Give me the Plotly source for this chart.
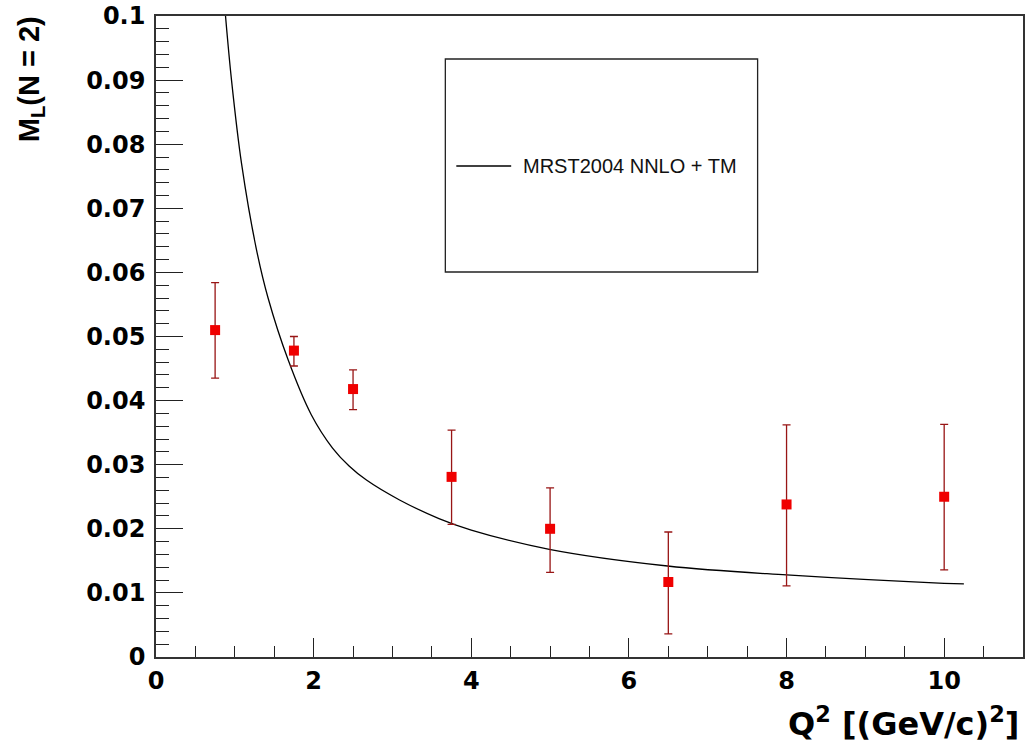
import plotly.graph_objects as go

# Measured longitudinal moment M_L (N = 2) vs Q^2
q2_data = [0.75, 1.75, 2.5, 3.75, 5.0, 6.5, 8.0, 10.0]
ml_data = [0.0510, 0.0478, 0.0418, 0.0281, 0.0200, 0.0117, 0.0238, 0.0250]
ml_err_up = [0.0074, 0.0022, 0.0030, 0.0073, 0.0064, 0.0078, 0.0124, 0.0113]
ml_err_down = [0.0075, 0.0024, 0.0032, 0.0074, 0.0068, 0.0081, 0.0127, 0.0114]

# MRST2004 NNLO + target-mass prediction
q2_theory = [0.882, 0.958, 1.085, 1.274, 1.422, 1.675, 1.97, 2.24, 2.45, 2.67,
             3.09, 3.59, 4.0, 4.99, 6.49, 8.0, 10.0, 10.25]
ml_theory = [0.1000, 0.0900, 0.0770, 0.0636, 0.0560, 0.0464, 0.0378, 0.0326, 0.0298, 0.0276,
             0.0245, 0.0216, 0.0198, 0.0168, 0.0142, 0.0128, 0.0115, 0.0114]

legend_label = "MRST2004 NNLO + TM"
x_title = "Q<sup>2</sup> [(GeV/c)<sup>2</sup>]"
y_title = "M<sub>L</sub>(N = 2)"

W, H = 1027, 746
L, R, T, B = 156, 2, 16, 89
pw, ph = W - L - R, H - T - B


def px(x):
    return (x - L) / pw


def py(y):
    return (H - B - y) / ph


fig = go.Figure()

fig.add_trace(go.Scatter(
    x=q2_theory, y=ml_theory, mode="lines",
    line=dict(color="black", width=1.3, shape="spline", smoothing=1.0),
    showlegend=False, hoverinfo="skip",
))

fig.add_trace(go.Scatter(
    x=q2_data, y=ml_data, mode="markers",
    marker=dict(symbol="square", size=10, color="#f00000"),
    error_y=dict(type="data", symmetric=False, array=ml_err_up, arrayminus=ml_err_down,
                 color="#981515", thickness=1.3, width=4),
    showlegend=False,
))

tick_font = dict(family="DejaVu Sans", size=24, color="black", weight="bold")

fig.update_xaxes(
    range=[0, 11], dtick=2, tick0=0, ticks="inside", ticklen=19, tickwidth=1.3,
    tickcolor="#222", showline=True, linecolor="#333", linewidth=1.6, mirror=True,
    showgrid=False, zeroline=False, tickfont=tick_font, ticklabelstandoff=1,
    minor=dict(dtick=0.5, ticks="inside", ticklen=11, tickwidth=1.2, tickcolor="#222", showgrid=False),
)
fig.update_yaxes(
    range=[0, 0.1], dtick=0.01, tick0=0, ticks="inside", ticklen=27, tickwidth=1.3,
    tickcolor="#222", showline=True, linecolor="#333", linewidth=1.6, mirror=True,
    showgrid=False, zeroline=False, tickfont=tick_font, ticklabelstandoff=4,
    minor=dict(dtick=0.002, ticks="inside", ticklen=13, tickwidth=1.2, tickcolor="#222", showgrid=False),
)

# Legend box drawn as shapes
fig.add_shape(type="rect", xref="paper", yref="paper",
              x0=px(446), x1=px(759), y0=py(272), y1=py(59),
              line=dict(color="#222", width=1.3), fillcolor="white", layer="below")
fig.add_shape(type="line", xref="paper", yref="paper",
              x0=px(457), x1=px(512), y0=py(166), y1=py(166),
              line=dict(color="black", width=1.3))
fig.add_annotation(xref="paper", yref="paper", x=px(522), y=py(166),
                   xanchor="left", yanchor="middle", showarrow=False,
                   text=legend_label,
                   font=dict(family="Liberation Sans", size=20, color="#111"))

# Axis titles
fig.add_annotation(xref="paper", yref="paper", x=px(1023), y=py(722),
                   xanchor="right", yanchor="middle", showarrow=False,
                   text=x_title,
                   font=dict(family="DejaVu Sans", size=32, color="black", weight="bold"))
fig.add_annotation(xref="paper", yref="paper", x=px(31), y=py(79),
                   xanchor="center", yanchor="middle", showarrow=False, textangle=-90,
                   text=y_title,
                   font=dict(family="Liberation Sans", size=29, color="black", weight="bold"))

fig.update_layout(
    width=W, height=H,
    margin=dict(l=L, r=R, t=T, b=B),
    paper_bgcolor="white", plot_bgcolor="white",
    showlegend=False,
)

fig.write_html("out.html")
